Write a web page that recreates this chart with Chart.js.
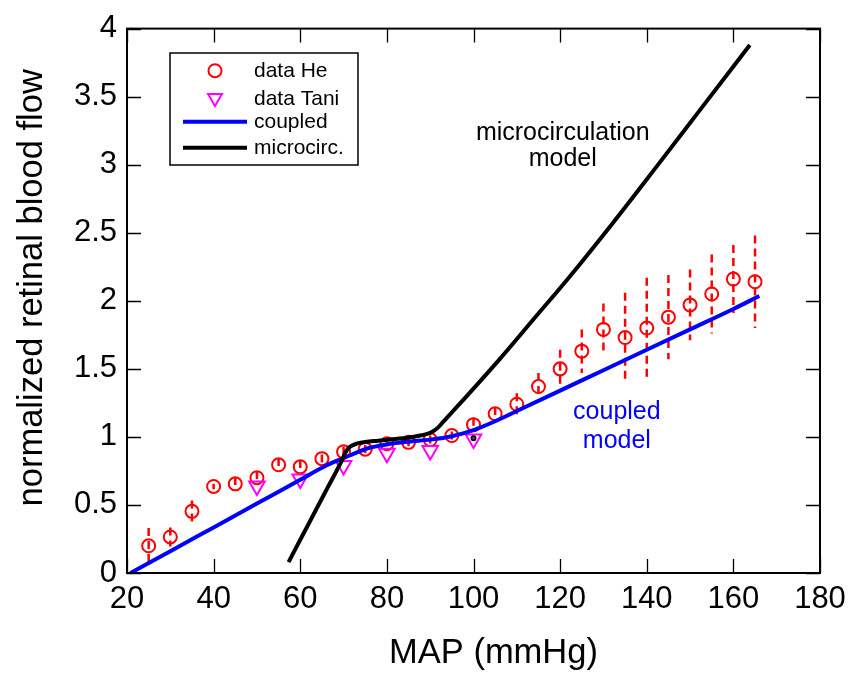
<!DOCTYPE html>
<html>
<head>
<meta charset="utf-8">
<script src="https://cdn.jsdelivr.net/npm/chart.js@4"></script>
<style>
  body { margin: 0; background: #fff; }
  canvas { display: block; }
</style>
</head>
<body>
<canvas id="flowChart" width="857" height="675"></canvas>
<script>
// He et al. data: MAP (mmHg), normalized flow, +/- error
const heMap = [25, 30, 35, 40, 45, 50, 55, 60, 65, 70, 75, 80, 85, 90, 95,
               100, 105, 110, 115, 120, 125, 130, 135, 140, 145, 150, 155, 160, 165];
const heFlow = [0.20, 0.265, 0.453, 0.636, 0.655, 0.70, 0.795, 0.78, 0.84, 0.89, 0.91, 0.95, 0.96, 0.98, 1.01,
                1.09, 1.17, 1.24, 1.37, 1.50, 1.63, 1.79, 1.73, 1.80, 1.88, 1.97, 2.05, 2.16, 2.14];
const heErr = [0.13, 0.07, 0.08, 0.02, 0.05, 0.05, 0.05, 0.05, 0.03, 0.04, 0.03, 0.04, 0.03, 0.03, 0.03,
               0.05, 0.05, 0.08, 0.10, 0.14, 0.16, 0.19, 0.33, 0.37, 0.31, 0.26, 0.29, 0.25, 0.34];

// Tani et al. data
const taniMap = [50, 60, 70, 80, 90, 100];
const taniFlow = [0.64, 0.69, 0.79, 0.88, 0.90, 0.985];

// coupled model curve
const coupledMap = [20.8, 30, 40, 50, 60, 66, 70, 73, 76, 80, 85, 90, 95, 100, 105, 110, 120, 130, 140, 150, 160, 166];
const coupledFlow = [0, 0.16, 0.335, 0.51, 0.685, 0.79, 0.845, 0.885, 0.92, 0.945, 0.965, 0.98, 1.005, 1.05, 1.115, 1.19,
                     1.34, 1.49, 1.64, 1.79, 1.94, 2.035];

// microcirculation model curve
const microMap = [57.3, 60, 63, 66, 69.5, 70.2, 70.8, 71.6, 73, 75, 78, 82, 86, 88, 90, 91.5, 93, 96, 100,
                  106, 114, 122, 132, 142, 152, 163.8];
const microFlow = [0.08, 0.244, 0.426, 0.608, 0.82, 0.87, 0.905, 0.93, 0.95, 0.962, 0.972, 0.985, 1.0, 1.012, 1.03,
                   1.06, 1.11, 1.215, 1.355, 1.57, 1.87, 2.17, 2.565, 2.975, 3.39, 3.88];

// reference point
const refMap = [100];
const refFlow = [0.99];

const FONT = '"Liberation Sans", Arial, Helvetica, sans-serif';

function pts(xs, ys) {
    return xs.map((x, i) => ({ x: x, y: ys[i] }));
}

// dashed error bars under the markers
const errorBars = {
    id: 'errorBars',
    beforeDatasetsDraw(chart) {
        const { ctx, chartArea: a, scales: { x, y } } = chart;
        ctx.save();
        ctx.beginPath();
        ctx.rect(a.left, a.top, a.width, a.height);
        ctx.clip();
        ctx.strokeStyle = '#ff0000';
        ctx.lineWidth = 2.5;
        ctx.setLineDash([8, 5]);
        heMap.forEach((m, i) => {
            const px = x.getPixelForValue(m);
            ctx.beginPath();
            ctx.moveTo(px, y.getPixelForValue(heFlow[i] + heErr[i]));
            ctx.lineTo(px, y.getPixelForValue(heFlow[i] - heErr[i]));
            ctx.stroke();
        });
        ctx.restore();
    }
};

// box, inward ticks, labels, legend
const decorations = {
    id: 'decorations',
    afterDraw(chart) {
        const { ctx, chartArea: a, scales: { x, y } } = chart;
        ctx.save();

        // inward ticks on all four sides
        ctx.strokeStyle = '#000';
        ctx.lineWidth = 1.3;
        const tl = 14;
        x.ticks.forEach(t => {
            const px = Math.round(x.getPixelForValue(t.value)) + 0.5;
            ctx.beginPath();
            ctx.moveTo(px, a.bottom); ctx.lineTo(px, a.bottom - tl);
            ctx.moveTo(px, a.top); ctx.lineTo(px, a.top + tl);
            ctx.stroke();
        });
        y.ticks.forEach(t => {
            const py = Math.round(y.getPixelForValue(t.value)) + 0.5;
            ctx.beginPath();
            ctx.moveTo(a.left, py); ctx.lineTo(a.left + tl, py);
            ctx.moveTo(a.right, py); ctx.lineTo(a.right - tl, py);
            ctx.stroke();
        });

        // frame
        ctx.lineWidth = 2;
        ctx.strokeRect(a.left, a.top, a.width, a.height);

        // axis titles
        ctx.fillStyle = '#000';
        ctx.font = '34.5px ' + FONT;
        ctx.textAlign = 'center';
        ctx.textBaseline = 'middle';
        ctx.fillText('MAP (mmHg)', (a.left + a.right) / 2 + 20, 653);
        ctx.save();
        ctx.translate(32, (a.top + a.bottom) / 2 - 13);
        ctx.rotate(-Math.PI / 2);
        ctx.fillText('normalized retinal blood flow', 0, 0);
        ctx.restore();

        // curve labels
        ctx.font = '25px ' + FONT;
        ctx.textBaseline = 'alphabetic';
        ctx.fillStyle = '#000';
        let cx = x.getPixelForValue(120.6);
        ctx.fillText('microcirculation', cx, y.getPixelForValue(3.18));
        ctx.fillText('model', cx, y.getPixelForValue(2.99));
        ctx.fillStyle = '#0000ff';
        cx = x.getPixelForValue(133.1);
        ctx.fillText('coupled', cx, y.getPixelForValue(1.135));
        ctx.fillText('model', cx, y.getPixelForValue(0.92));

        // legend
        const lx = 170, ly = 53, lw = 188, lh = 112;
        ctx.fillStyle = '#fff';
        ctx.fillRect(lx, ly, lw, lh);
        ctx.strokeStyle = '#000';
        ctx.lineWidth = 1.5;
        ctx.strokeRect(lx, ly, lw, lh);
        const rows = [70.7, 98, 121.7, 147.7];
        ctx.font = '21px ' + FONT;
        ctx.textAlign = 'left';
        ctx.textBaseline = 'middle';
        chart.data.datasets.filter(d => d.label).forEach((d, i) => {
            const ry = rows[i];
            ctx.strokeStyle = d.borderColor;
            if (d.showLine) {
                ctx.lineWidth = d.borderWidth;
                ctx.beginPath();
                ctx.moveTo(183, ry); ctx.lineTo(247, ry);
                ctx.stroke();
            } else {
                ctx.fillStyle = 'rgba(0,0,0,0)';
                ctx.lineWidth = d.pointBorderWidth;
                Chart.helpers.drawPoint(ctx, {
                    pointStyle: d.pointStyle, rotation: d.pointRotation || 0,
                    radius: d.legendRadius, borderWidth: d.pointBorderWidth
                }, 215, ry);
            }
            ctx.fillStyle = '#000';
            ctx.fillText(d.label, 254, ry + 1);
        });
        ctx.restore();
    }
};

new Chart(document.getElementById('flowChart'), {
    type: 'scatter',
    data: {
        datasets: [
            {
                label: 'data He',
                data: pts(heMap, heFlow),
                pointStyle: 'circle',
                pointRadius: 6.5,
                legendRadius: 6.5,
                pointBorderWidth: 2,
                borderColor: '#ff0000',
                backgroundColor: 'rgba(0,0,0,0)',
                showLine: false,
                order: 5
            },
            {
                label: 'data Tani',
                data: pts(taniMap, taniFlow),
                pointStyle: 'triangle',
                pointRotation: 180,
                pointRadius: 9,
                legendRadius: 8,
                pointBorderWidth: 2,
                borderColor: '#ff00ff',
                backgroundColor: 'rgba(0,0,0,0)',
                showLine: false,
                order: 4
            },
            {
                label: 'coupled',
                data: pts(coupledMap, coupledFlow),
                showLine: true,
                borderColor: '#0000ff',
                borderWidth: 4,
                pointRadius: 0,
                cubicInterpolationMode: 'monotone',
                order: 3
            },
            {
                label: 'microcirc.',
                data: pts(microMap, microFlow),
                showLine: true,
                borderColor: '#000000',
                borderWidth: 4,
                borderJoinStyle: 'round',
                pointRadius: 0,
                cubicInterpolationMode: 'monotone',
                order: 2
            },
            {
                label: '',
                data: pts(refMap, refFlow),
                pointStyle: 'circle',
                pointRadius: 2.2,
                pointBorderWidth: 1.5,
                borderColor: '#000000',
                backgroundColor: '#444444',
                showLine: false,
                order: 1
            }
        ]
    },
    options: {
        responsive: false,
        animation: false,
        devicePixelRatio: 1,
        layout: { padding: { top: 26, right: 37, left: 0, bottom: 0 } },
        plugins: {
            legend: { display: false },
            tooltip: { enabled: false }
        },
        scales: {
            x: {
                type: 'linear',
                min: 20,
                max: 180,
                grid: { display: false, drawTicks: false },
                border: { display: false },
                ticks: {
                    stepSize: 20,
                    padding: 8,
                    color: '#000',
                    font: { family: FONT, size: 31 },
                    maxRotation: 0
                },
                afterFit(scale) { scale.height = 102; }
            },
            y: {
                type: 'linear',
                min: 0,
                max: 4,
                grid: { display: false, drawTicks: false },
                border: { display: false },
                ticks: {
                    stepSize: 0.5,
                    padding: 10,
                    color: '#000',
                    font: { family: FONT, size: 31 },
                    callback: v => String(v)
                },
                afterFit(scale) { scale.width = 127; }
            }
        }
    },
    plugins: [errorBars, decorations]
});
</script>
</body>
</html>
